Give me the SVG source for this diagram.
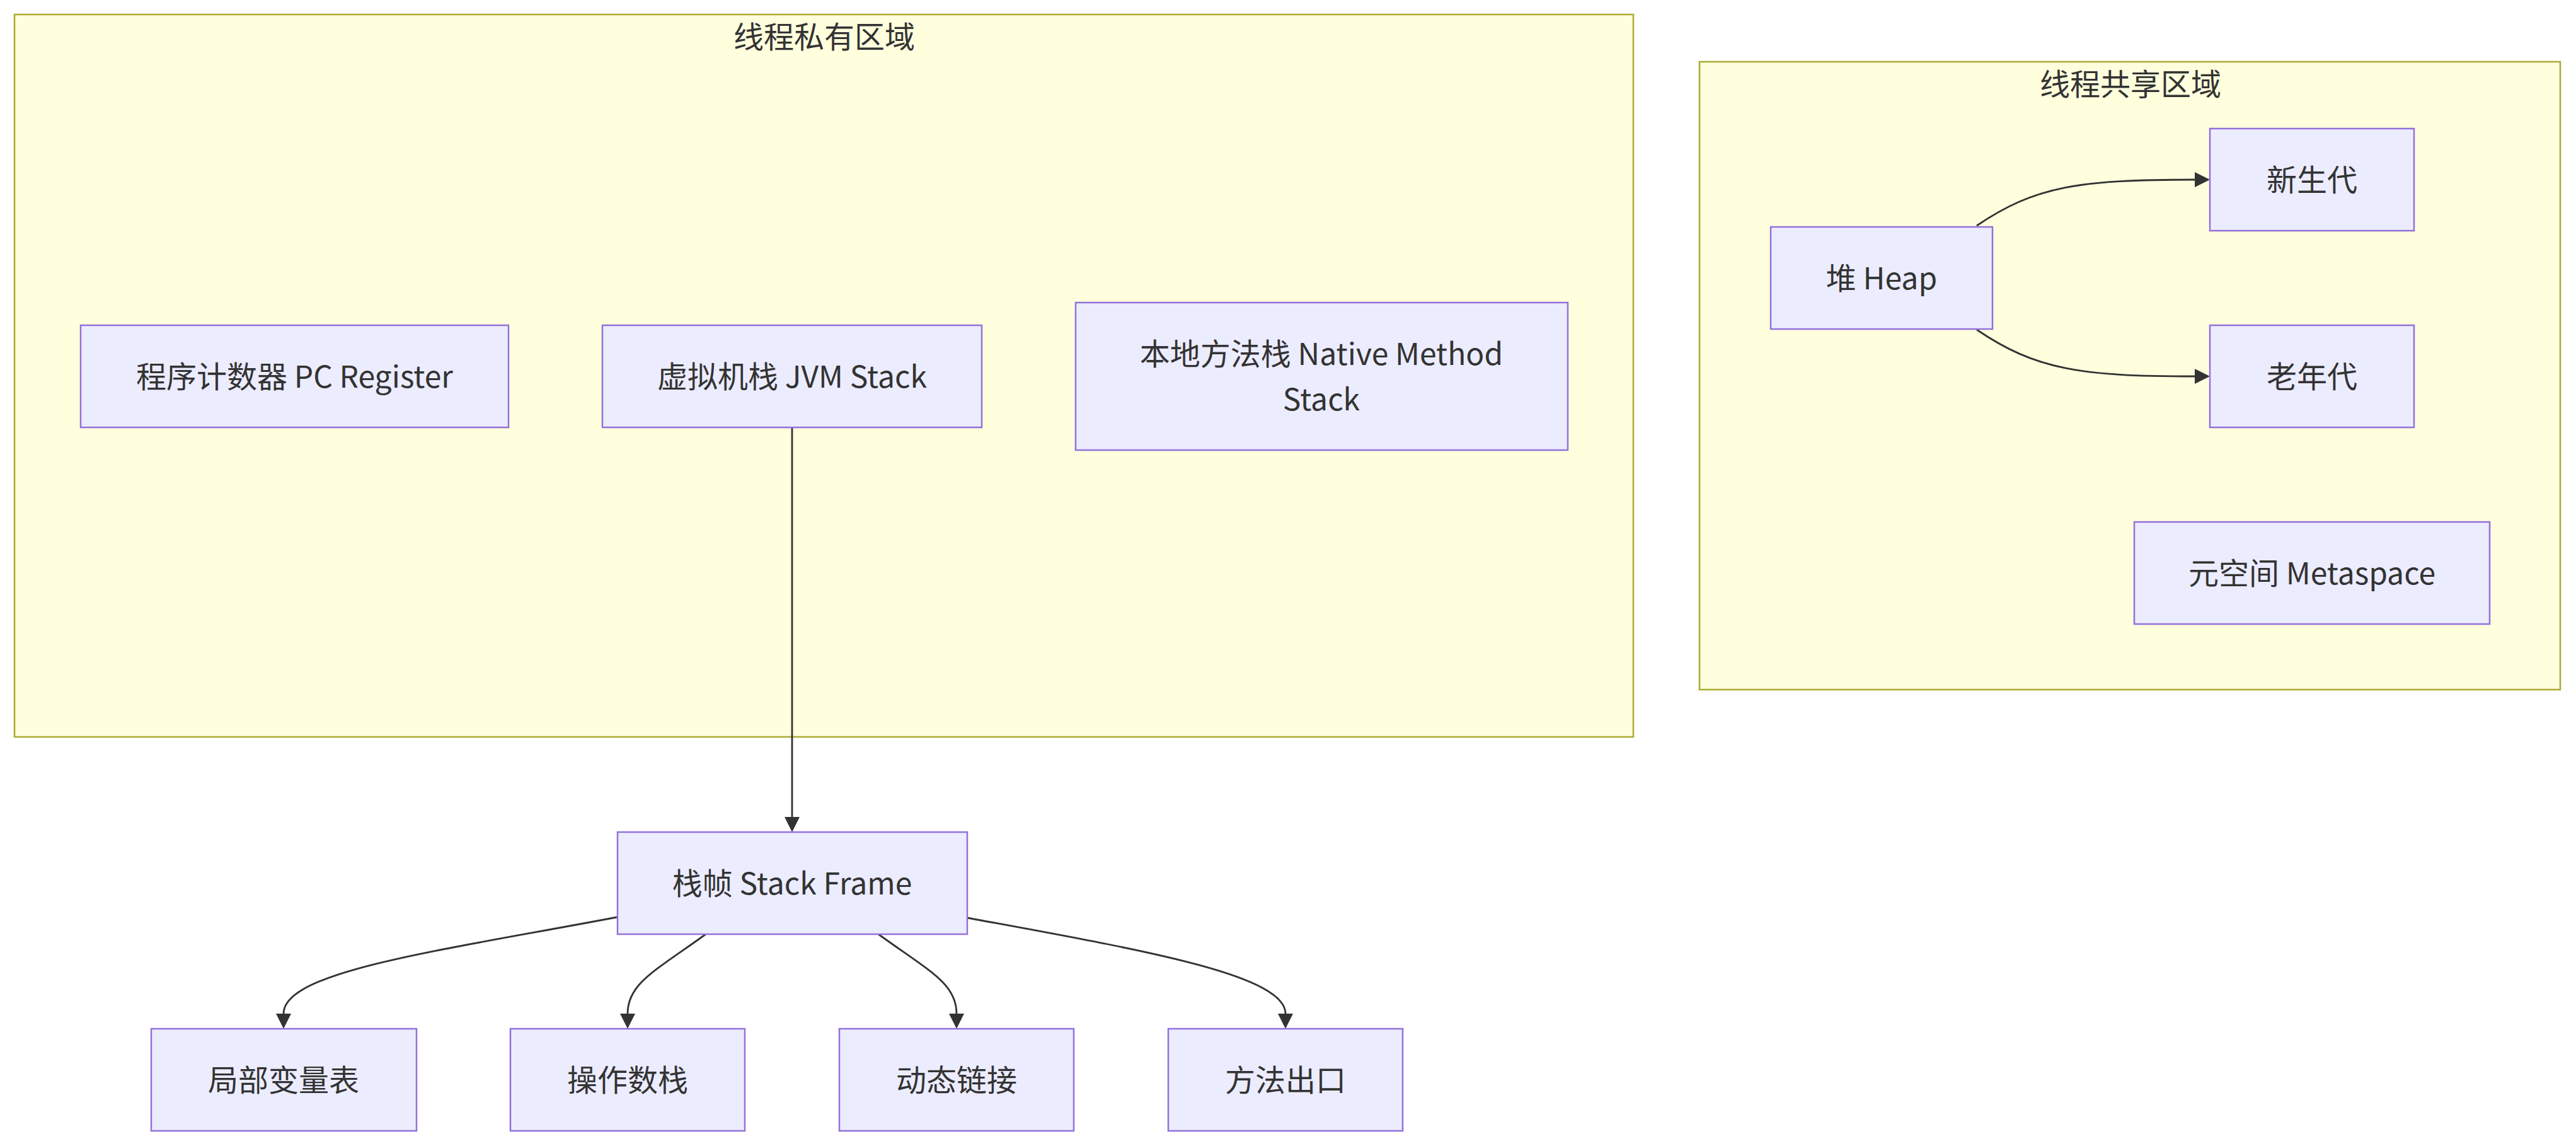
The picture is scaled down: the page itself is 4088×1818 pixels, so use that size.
<svg xmlns="http://www.w3.org/2000/svg" width="4088" height="1818" viewBox="0 0 4088 1818">
<style>
  .cluster rect { fill: #ffffde; stroke: #aaaa33; stroke-width: 2.5; }
  .cluster text { font-family: "Noto Sans CJK SC", "Noto Sans", sans-serif; font-size: 48px; fill: #333333; text-anchor: middle; dominant-baseline: central; }
  .node rect { fill: #ECECFF; stroke: #9370DB; stroke-width: 2.5; }
  .node text { font-family: "Noto Sans CJK SC", "Noto Sans", sans-serif; font-size: 48px; fill: #333333; text-anchor: middle; dominant-baseline: central; }
  .edges path { fill: none; stroke: #333333; stroke-width: 2.8; marker-end: url(#arrow); }
</style>
<defs>
  <marker id="arrow" markerUnits="userSpaceOnUse" markerWidth="24" markerHeight="24" viewBox="0 0 10 10" refX="0" refY="5" orient="auto">
    <path d="M0,0 L10,5 L0,10 z" fill="#333333"/>
  </marker>
</defs>
<rect width="4088" height="1818" fill="#ffffff"/>

<g id="cluster-private" class="cluster">
  <rect x="23" y="23" width="2569" height="1146"/>
  <text x="1308" y="55">线程私有区域</text>
</g>
<g id="cluster-shared" class="cluster">
  <rect x="2697" y="98" width="1366" height="996"/>
  <text x="3381" y="130">线程共享区域</text>
</g>

<g id="edges" class="edges">
  <path d="M1257,678 L1257,1296"/>
  <path d="M979,1455 C700,1508 450,1540 450,1608"/>
  <path d="M1120,1482 C1040,1540 996,1560 996,1608"/>
  <path d="M1394,1482 C1474,1540 1518,1560 1518,1608"/>
  <path d="M1535,1456 C1800,1505 2040,1545 2040,1608"/>
  <path d="M3137,358 C3230,295 3300,285 3483,285"/>
  <path d="M3137,523 C3230,586 3300,597 3483,597"/>
</g>

<g id="node-pc" class="node">
  <rect x="128" y="516" width="679" height="162"/>
  <text x="467.5" y="594">程序计数器 PC Register</text>
</g>
<g id="node-jvm" class="node">
  <rect x="956" y="516" width="602" height="162"/>
  <text x="1257" y="594">虚拟机栈 JVM Stack</text>
</g>
<g id="node-native" class="node">
  <rect x="1707" y="480" width="781" height="234"/>
  <text x="2097" y="558">本地方法栈 Native Method</text>
  <text x="2097" y="630">Stack</text>
</g>
<g id="node-heap" class="node">
  <rect x="2810" y="360" width="352" height="162"/>
  <text x="2986" y="438">堆 Heap</text>
</g>
<g id="node-young" class="node">
  <rect x="3507" y="204" width="324" height="162"/>
  <text x="3669" y="282">新生代</text>
</g>
<g id="node-old" class="node">
  <rect x="3507" y="516" width="324" height="162"/>
  <text x="3669" y="594">老年代</text>
</g>
<g id="node-meta" class="node">
  <rect x="3387" y="828" width="564" height="162"/>
  <text x="3669" y="906">元空间 Metaspace</text>
</g>
<g id="node-frame" class="node">
  <rect x="980" y="1320" width="555" height="162"/>
  <text x="1257" y="1398">栈帧 Stack Frame</text>
</g>
<g id="node-local" class="node">
  <rect x="240" y="1632" width="421" height="162"/>
  <text x="450" y="1710">局部变量表</text>
</g>
<g id="node-opstack" class="node">
  <rect x="810" y="1632" width="372" height="162"/>
  <text x="996" y="1710">操作数栈</text>
</g>
<g id="node-dyn" class="node">
  <rect x="1332" y="1632" width="372" height="162"/>
  <text x="1518" y="1710">动态链接</text>
</g>
<g id="node-exit" class="node">
  <rect x="1854" y="1632" width="372" height="162"/>
  <text x="2040" y="1710">方法出口</text>
</g>
</svg>
